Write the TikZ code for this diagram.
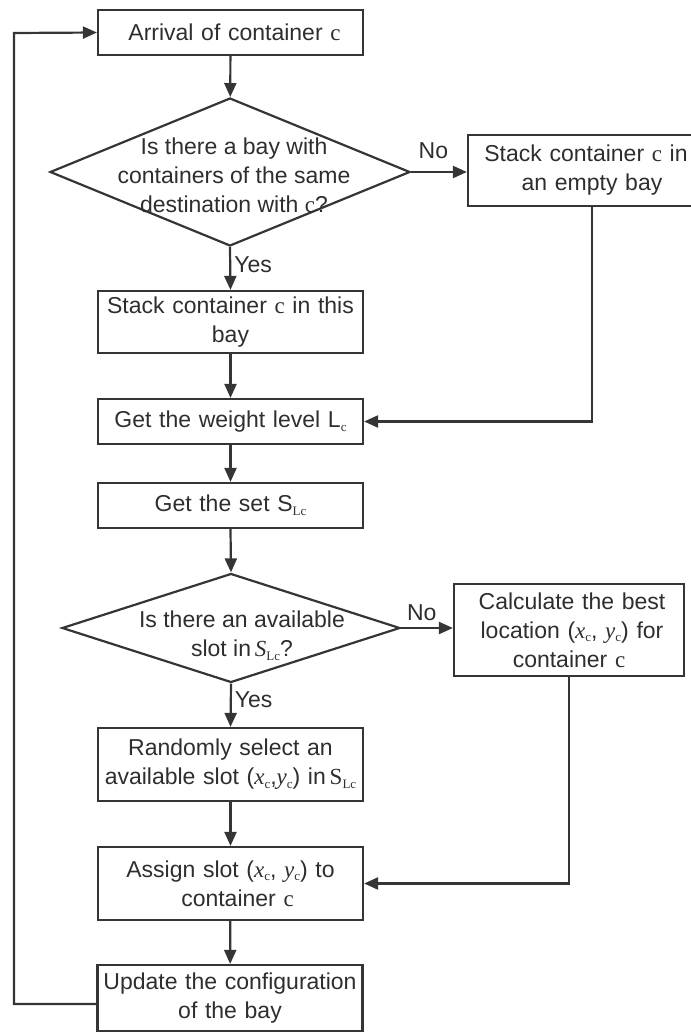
\documentclass[tikz,border=0pt]{standalone}
\usepackage{fontspec}
\setmainfont{Liberation Sans}
\newfontfamily\tms{Liberation Serif}
\usetikzlibrary{shapes.geometric,arrows.meta}
\definecolor{ln}{HTML}{353535}
\definecolor{tx}{HTML}{2E2E2E}
\newcommand\vc{{\tms c}}
\newcommand\sbs[1]{\raisebox{-0.3ex}{\fontsize{13}{13}\selectfont\tms #1}}
\newcommand\vx{{\tms\itshape x}}
\newcommand\vy{{\tms\itshape y}}
\begin{document}
\begin{tikzpicture}[x=1pt,y=-1pt,
  every node/.style={text=tx,font=\fontsize{23}{29}\selectfont},
  boxn/.style={draw=ln,line width=2.2pt,rectangle,minimum width=265pt,inner xsep=4pt,inner ysep=0pt,text width=257pt,align=center},
  dian/.style={draw=ln,line width=2.2pt,diamond,inner sep=0pt},
  lbl/.style={inner sep=0pt},
  arr/.style={draw=ln,line width=2.2pt,-{Triangle[length=14pt,width=12pt]}},
  lin/.style={draw=ln,line width=2.2pt}]
\useasboundingbox (0,0) rectangle (691,1034);
\clip (0,0) rectangle (691,1034);

\node[boxn,minimum height=45pt] (arrv) at (230.5,32.5) {\hspace*{8pt}Arrival of container \vc};
\node[dian,minimum width=360pt,minimum height=148pt] (d1) at (230,172) {};
\node[lbl,align=center] (d1t) at (234,175) {Is there a bay with\\containers of the same\\destination with \vc?};
\node[boxn,minimum width=248pt,text width=240pt,minimum height=71pt] (emp) at (592,170.5) {\hspace*{-12pt}Stack container \vc{} in\\an empty bay};
\node[boxn,minimum height=62pt] (b2) at (230.5,322) {Stack container \vc{} in this\\bay};
\node[boxn,minimum height=45pt] (b3) at (230.5,421.5) {Get the weight level L\sbs{c}};
\node[boxn,minimum height=45pt] (b4) at (230.5,505.5) {Get the set S\sbs{Lc}};
\node[dian,minimum width=338pt,minimum height=109pt] (d2) at (231,628) {};
\node[lbl,align=center] (d2t) at (242,636) {Is there an available\\slot in\,{\tms\itshape S}\sbs{Lc}?};
\node[boxn,minimum width=230pt,text width=222pt,minimum height=92pt] (b6) at (569,630) {\hspace*{6pt}Calculate the best\\\hspace*{6pt}location ({\tms\itshape x}\sbs{c}, {\tms\itshape y}\sbs{c}) for\\container \vc};
\node[boxn,minimum height=73pt] (b5) at (230.5,764.5) {Randomly select an\\available slot (\vx\sbs{c},\vy\sbs{c}) in\,{\tms S}\sbs{Lc}};
\node[boxn,minimum height=73pt] (b7) at (230.5,883.5) {Assign slot (\vx\sbs{c}, \vy\sbs{c}) to\\\hspace*{14pt}container \vc};
\node[boxn,minimum width=264pt,minimum height=66pt] (b8) at (230,998) {Update the configuration\\of the bay};

\coordinate (lp1) at (14,1004);
\coordinate (lp2) at (14,33);

\draw[arr] (arrv) -- (d1);
\draw[arr] (d1.east) -- node[lbl,above=12pt,pos=0.4] (no1) {No} (emp.west |- d1.east);
\draw[arr] (d1.south) -- node[lbl,right=3pt,pos=0.4] (yes1) {Yes} (b2.north);
\draw[arr] (b2) -- (b3);
\draw[arr] (emp.south) |- (b3.east);
\draw[arr] (b3) -- (b4);
\draw[arr] (b4.south) -- (d2.north);
\draw[arr] (d2.east) -- node[lbl,above=6pt,pos=0.4] (no2) {No} (b6.west |- d2.east);
\draw[arr] (d2.south) -- node[lbl,right=3pt,pos=0.38] (yes2) {Yes} (b5.north);
\draw[arr] (b5) -- (b7);
\draw[arr] (b6.south) |- (b7.east);
\draw[arr] (b7) -- (b8);
\draw[arr] ([yshift=-6pt]b8.west) -- (lp1) -- (lp2) -- (arrv.west);
\end{tikzpicture}
\end{document}
